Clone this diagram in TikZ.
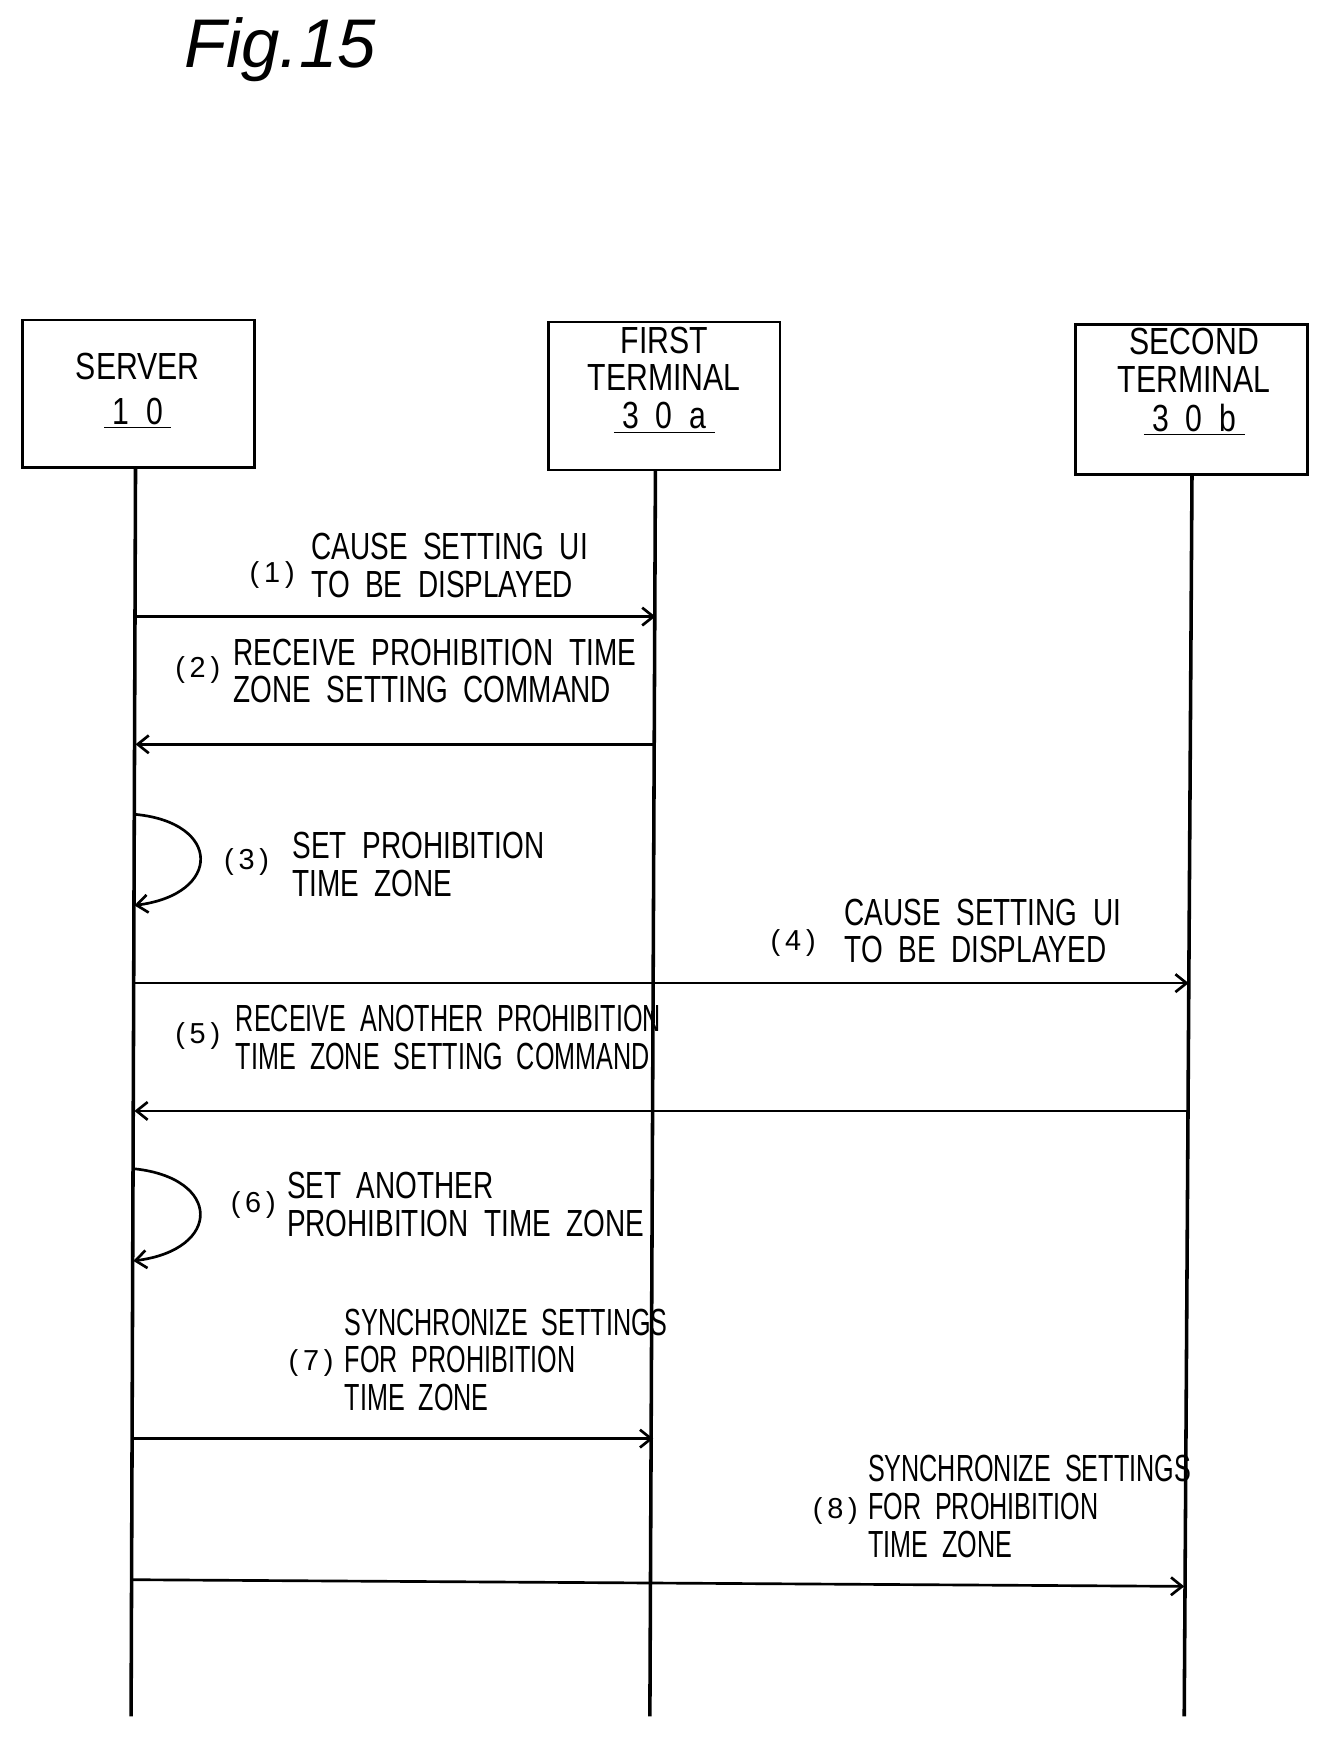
\documentclass[tikz,border=0pt]{standalone}
\usepackage{fontspec}
\setmainfont{Liberation Sans}
\usetikzlibrary{arrows.meta, positioning}
\newcommand{\lbl}[1]{\scalebox{0.74}[1]{\begin{tabular}{@{}l@{}}#1\end{tabular}}}
\newcommand{\hdr}[1]{\scalebox{0.8}[1]{\begin{tabular}{@{}c@{}}#1\end{tabular}}}
\tikzset{actorbox/.style={draw=black, line width=1.2pt, inner sep=0pt},
msgarrow/.style={line width=1.2pt, -{Straight Barb[length=5pt,width=8pt]}},
lifeline/.style={line width=1.6pt},
steptext/.style={anchor=west, inner sep=0pt, font=\fontsize{17}{17}\selectfont},
stepnum/.style={inner sep=0pt, font=\fontsize{13}{13}\selectfont}}
\begin{document}
\begin{tikzpicture}[x=0.5pt, y=-0.5pt]
\useasboundingbox (0,0) rectangle (1200,1569);
\node[font=\fontsize{31}{31}\selectfont\itshape] (title) at (252,45) {Fig.15};

% Actors
\draw[actorbox] (20,288) rectangle (229,421);
\draw[actorbox] (494,290) rectangle (702,423);
\draw[actorbox] (968,292) rectangle (1177,427);
\node[font=\fontsize{17}{17}\selectfont] (server) at (124,355) {\hdr{SERVER\\[3pt]\underline{\ 1\ \ 0\ }}};
\node[font=\fontsize{17}{17}\selectfont] (first) at (598,345) {\hdr{FIRST\\TERMINAL\\\underline{\ 3\ \ 0\ \ a\ }}};
\node[font=\fontsize{17}{17}\selectfont] (second) at (1075,347) {\hdr{SECOND\\TERMINAL\\\underline{\ 3\ \ 0\ \ b\ }}};

% Lifelines
\coordinate (s0) at (122,421); \coordinate (s1) at (118,1545);
\coordinate (f0) at (590,423); \coordinate (f1) at (585,1545);
\coordinate (t0) at (1073,427); \coordinate (t1) at (1066,1545);
\draw[lifeline] (s0) -- (s1);
\draw[lifeline] (f0) -- (f1);
\draw[lifeline] (t0) -- (t1);

% Messages
\draw[msgarrow] (122,555) -- (590,555);
\draw[msgarrow] (589,670) -- (122,670);
\draw[msgarrow] (121,733) .. controls (200,740) and (200,805) .. (121,815);
\draw[msgarrow] (121,885) -- (1070,885);
\draw[msgarrow] (1069,1000) -- (121,1000);
\draw[msgarrow] (120,1052) .. controls (200,1060) and (200,1125) .. (120,1135);
\draw[msgarrow] (119,1295) -- (588,1295);
\draw[msgarrow] (119,1422) -- (1066,1428);

% Labels
\node[stepnum] (n1) at (245,518) {(\,1\,)};
\node[steptext] (m1) at (280,514) {\lbl{CAUSE\ \ SETTING\ \ UI\\TO\ \ BE\ \ DISPLAYED}};
\node[stepnum] (n2) at (178,603) {(\,2\,)};
\node[steptext] (m2) at (210,609) {\lbl{RECEIVE\ \ PROHIBITION\ \ TIME\\ZONE\ \ SETTING\ \ COMMAND}};
\node[stepnum] (n3) at (222,776) {(\,3\,)};
\node[steptext] (m3) at (263,783) {\lbl{SET\ \ PROHIBITION\\TIME\ \ ZONE}};
\node[stepnum] (n4) at (714,849) {(\,4\,)};
\node[steptext] (m4) at (760,843) {\lbl{CAUSE\ \ SETTING\ \ UI\\TO\ \ BE\ \ DISPLAYED}};
\node[stepnum] (n5) at (178,933) {(\,5\,)};
\node[steptext] (m5) at (212,939) {\scalebox{0.9}[1]{\lbl{RECEIVE\ \ ANOTHER\ \ PROHIBITION\\TIME\ \ ZONE\ \ SETTING\ \ COMMAND}}};
\node[stepnum] (n6) at (228,1085) {(\,6\,)};
\node[steptext] (m6) at (258,1089) {\lbl{SET\ \ ANOTHER\\PROHIBITION\ \ TIME\ \ ZONE}};
\node[stepnum] (n7) at (280,1227) {(\,7\,)};
\node[steptext] (m7) at (310,1229) {\scalebox{0.9}[1]{\lbl{SYNCHRONIZE\ \ SETTINGS\\FOR\ \ PROHIBITION\\TIME\ \ ZONE}}};
\node[stepnum] (n8) at (752,1360) {(\,8\,)};
\node[steptext] (m8) at (781,1361) {\scalebox{0.9}[1]{\lbl{SYNCHRONIZE\ \ SETTINGS\\FOR\ \ PROHIBITION\\TIME\ \ ZONE}}};
\end{tikzpicture}
\end{document}
